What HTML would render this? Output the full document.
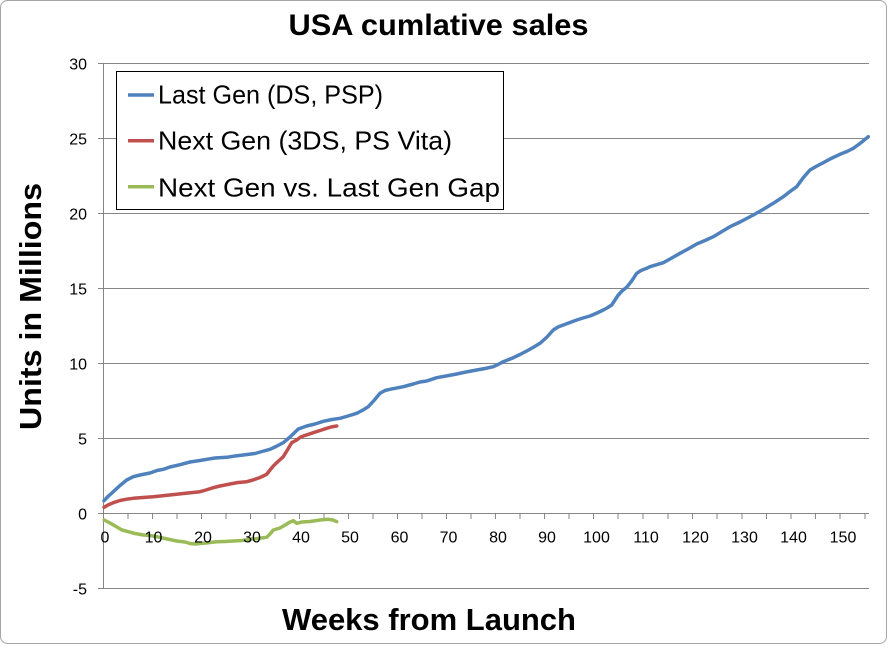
<!DOCTYPE html>
<html>
<head>
<meta charset="utf-8">
<style>
  html,body{margin:0;padding:0;background:#fff;}
  svg{display:block;}
  text{font-family:"Liberation Sans",Arial,sans-serif;}
</style>
</head>
<body>
<svg width="889" height="647" viewBox="0 0 889 647" xmlns="http://www.w3.org/2000/svg">
  <rect x="0" y="0" width="889" height="647" fill="#ffffff"/>
  <rect x="0.5" y="0.5" width="886" height="643" rx="7" ry="7" fill="#ffffff" stroke="#a6a6a6" stroke-width="1"/>

  <!-- Title -->
  <text x="288.5" y="35" font-size="30" font-weight="bold" textLength="300" lengthAdjust="spacingAndGlyphs" fill="#000">USA cumlative sales</text>

  <!-- Gridlines -->
  <g stroke="#868686" stroke-width="1" shape-rendering="crispEdges">
    <line x1="103" y1="63.5" x2="869" y2="63.5"/>
    <line x1="103" y1="138.5" x2="869" y2="138.5"/>
    <line x1="103" y1="213.5" x2="869" y2="213.5"/>
    <line x1="103" y1="288.5" x2="869" y2="288.5"/>
    <line x1="103" y1="363.5" x2="869" y2="363.5"/>
    <line x1="103" y1="438.5" x2="869" y2="438.5"/>
    <line x1="103" y1="588.5" x2="869" y2="588.5"/>
    <line x1="103" y1="513.5" x2="869" y2="513.5"/>
    <line x1="103.5" y1="63" x2="103.5" y2="589"/>
    <line x1="98" y1="63.5" x2="103" y2="63.5"/>
    <line x1="98" y1="138.5" x2="103" y2="138.5"/>
    <line x1="98" y1="213.5" x2="103" y2="213.5"/>
    <line x1="98" y1="288.5" x2="103" y2="288.5"/>
    <line x1="98" y1="363.5" x2="103" y2="363.5"/>
    <line x1="98" y1="438.5" x2="103" y2="438.5"/>
    <line x1="98" y1="513.5" x2="103" y2="513.5"/>
    <line x1="98" y1="588.5" x2="103" y2="588.5"/>
  </g>
  <g stroke="#868686" stroke-width="1" shape-rendering="crispEdges">
    <line x1="128" y1="513" x2="128" y2="519"/>
    <line x1="152.5" y1="513" x2="152.5" y2="519"/>
    <line x1="177" y1="513" x2="177" y2="519"/>
    <line x1="201.5" y1="513" x2="201.5" y2="519"/>
    <line x1="226" y1="513" x2="226" y2="519"/>
    <line x1="250.5" y1="513" x2="250.5" y2="519"/>
    <line x1="275" y1="513" x2="275" y2="519"/>
    <line x1="299.5" y1="513" x2="299.5" y2="519"/>
    <line x1="324" y1="513" x2="324" y2="519"/>
    <line x1="348.5" y1="513" x2="348.5" y2="519"/>
    <line x1="373" y1="513" x2="373" y2="519"/>
    <line x1="397.5" y1="513" x2="397.5" y2="519"/>
    <line x1="422" y1="513" x2="422" y2="519"/>
    <line x1="446.5" y1="513" x2="446.5" y2="519"/>
    <line x1="471" y1="513" x2="471" y2="519"/>
    <line x1="495.5" y1="513" x2="495.5" y2="519"/>
    <line x1="520" y1="513" x2="520" y2="519"/>
    <line x1="544.5" y1="513" x2="544.5" y2="519"/>
    <line x1="569" y1="513" x2="569" y2="519"/>
    <line x1="593.5" y1="513" x2="593.5" y2="519"/>
    <line x1="618" y1="513" x2="618" y2="519"/>
    <line x1="643" y1="513" x2="643" y2="519"/>
    <line x1="668" y1="513" x2="668" y2="519"/>
    <line x1="692.5" y1="513" x2="692.5" y2="519"/>
    <line x1="717" y1="513" x2="717" y2="519"/>
    <line x1="742" y1="513" x2="742" y2="519"/>
    <line x1="766.5" y1="513" x2="766.5" y2="519"/>
    <line x1="791" y1="513" x2="791" y2="519"/>
    <line x1="815.5" y1="513" x2="815.5" y2="519"/>
    <line x1="840" y1="513" x2="840" y2="519"/>
    <line x1="865" y1="513" x2="865" y2="519"/>
  </g>

  <!-- Series -->
  <g fill="none" stroke-width="3.5" stroke-linejoin="round" stroke-linecap="round">
    <polyline stroke="#4F81BD" points="104,500.7 108,496.5 113.3,491.7 120,485.5 126.7,480 133.3,476.7 140,475 150,473 157,470.5 163.3,469.3 170,467 180,464.7 190,462 200,460.5 206.7,459.3 215,458 226.7,457.3 235,456 243.3,455 255,453.5 262,451.5 270,449.3 277,446 283.3,442.7 290,437 298.3,429 306.7,426 315,424 323.3,421.3 332,419.5 340,418.3 348,416 356.7,413.3 363,410 368.3,406.7 374,400.5 380,393.3 385,390.5 390,389.3 403.3,386.7 413.3,384 420,382 426.7,381 436.7,377.7 446,376 456.7,374 466,372 476.7,370 485,368.5 493.3,366.7 498,364.5 503.3,361.7 513.3,357.7 520,354.5 526.7,351 533,347.5 540,343.3 547,337 553.3,330 558,327 563.3,325 570,322.5 576.7,320 583,318 590,316 597,313 603.3,310 607,308 611.7,305 615,300 618.3,295 622,291 626.7,287.3 632,280.5 636.7,273.3 641,270.5 646.7,268.3 650,266.7 663.3,262.7 670,259 680,253.3 688,249 696.7,244 705,240.5 713.3,236.7 722,231.5 730,226.7 740,222 753.3,215 763,209.5 773.3,203.3 783.3,196.7 790,191.5 796.7,186.7 803,178 810,170 816,166.5 823.3,162.7 831,158.5 840,154.3 847,151.5 853.3,148.3 860,143.5 868.3,136.7"/>
    <polyline stroke="#C0504D" points="104,507.3 108,505 113.3,502.7 120,500.5 126,499.3 133.3,498.3 143,497.5 153.3,496.7 165,495.5 176.7,494.3 188,493 200,491.7 206,490 213.3,487.7 220,486 230,484 238,482.5 246.7,481.7 253,480 260,477.5 266.7,474.3 270,470 273.3,466 278,461.5 283.3,456.7 288,449 291.7,442.7 296.7,440 300,437.5 303.3,436 313.3,432.7 320,430.5 326.7,428.3 331,427 336.7,426"/>
    <polyline stroke="#9BBB59" points="104.3,520 110,523 116,526.5 122,530 128.3,531.7 135,533.5 143.3,535 150,535.5 156.7,536.7 165,538.5 176.7,541 185,542 190,543.5 195,544 203.3,543.3 210,542.5 216.7,541.7 225,541.5 233.3,541 242,540.5 250,539.3 258,538.5 266.7,537.3 270,534 273.3,530 280,528 286,524.5 290,522 293.3,520.7 296.7,523.3 302,522 310,521.5 320,520 328.3,519.3 333,520 336.7,521.7"/>
  </g>

  <!-- Y tick labels -->
  <g font-size="16" fill="#000" text-anchor="end">
    <text x="87" y="69.5">30</text>
    <text x="87" y="144.5">25</text>
    <text x="87" y="219.5">20</text>
    <text x="87" y="294.5">15</text>
    <text x="87" y="369.5">10</text>
    <text x="87" y="444.5">5</text>
    <text x="87" y="519.5">0</text>
    <text x="87" y="594.5">-5</text>
  </g>

  <!-- X tick labels -->
  <g font-size="16" fill="#000" text-anchor="middle">
    <text x="105" y="542.5">0</text>
    <text x="153.5" y="542.5">10</text>
    <text x="203" y="542.5">20</text>
    <text x="252" y="542.5">30</text>
    <text x="301" y="542.5">40</text>
    <text x="350" y="542.5">50</text>
    <text x="399.5" y="542.5">60</text>
    <text x="448.5" y="542.5">70</text>
    <text x="498" y="542.5">80</text>
    <text x="547" y="542.5">90</text>
    <text x="596.5" y="542.5">100</text>
    <text x="646" y="542.5">110</text>
    <text x="695.5" y="542.5">120</text>
    <text x="744.5" y="542.5">130</text>
    <text x="793.5" y="542.5">140</text>
    <text x="843" y="542.5">150</text>
  </g>

  <!-- Legend -->
  <rect x="116.5" y="71.5" width="387" height="138" fill="#ffffff" stroke="#000" stroke-width="1" shape-rendering="crispEdges"/>
  <g stroke-width="3.5">
    <line x1="128" y1="95" x2="154" y2="95" stroke="#4F81BD"/>
    <line x1="128" y1="140.7" x2="154" y2="140.7" stroke="#C0504D"/>
    <line x1="128" y1="186.7" x2="154" y2="186.7" stroke="#9BBB59"/>
  </g>
  <g font-size="26" fill="#000">
    <text x="158" y="103.5" textLength="225" lengthAdjust="spacingAndGlyphs">Last Gen (DS, PSP)</text>
    <text x="158" y="149.5" textLength="294" lengthAdjust="spacingAndGlyphs">Next Gen (3DS, PS Vita)</text>
    <text x="158" y="196.5" textLength="342" lengthAdjust="spacingAndGlyphs">Next Gen vs. Last Gen Gap</text>
  </g>

  <!-- Axis titles -->
  <text x="282" y="630" font-size="31" font-weight="bold" textLength="294" lengthAdjust="spacingAndGlyphs" fill="#000">Weeks from Launch</text>
  <text transform="translate(41,306.5) rotate(-90)" x="0" y="0" text-anchor="middle" font-size="31" font-weight="bold" textLength="247" lengthAdjust="spacingAndGlyphs" fill="#000">Units in Millions</text>
</svg>
</body>
</html>
